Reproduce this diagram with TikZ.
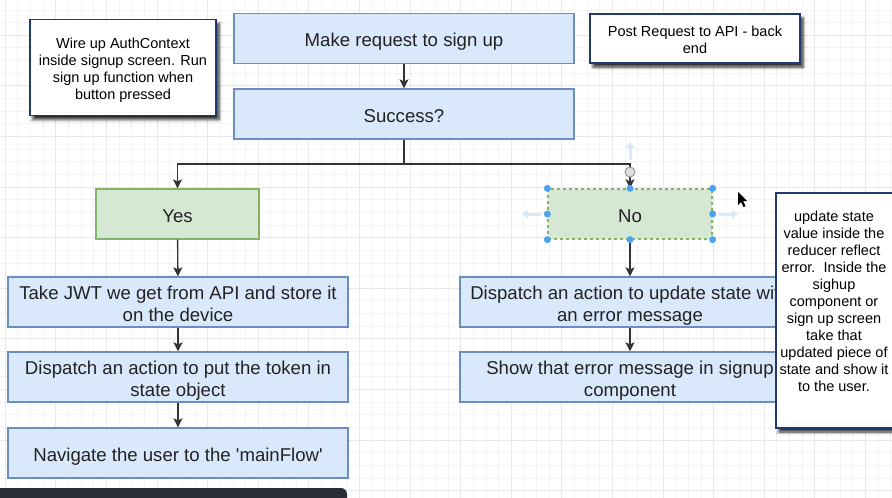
\documentclass[tikz,border=0pt]{standalone}
\usepackage{fontspec}
\setmainfont{Liberation Sans}
\usetikzlibrary{arrows.meta,shadows.blur}
\definecolor{bfill}{HTML}{DAE8FC}
\definecolor{bdraw}{HTML}{6C8EBF}
\definecolor{gfill}{HTML}{D5E8D4}
\definecolor{gdraw}{HTML}{82B366}
\definecolor{ndraw}{HTML}{1F3A6E}
\definecolor{txt}{HTML}{222222}
\definecolor{lnk}{HTML}{333333}
\definecolor{hdl}{HTML}{4AA3EE}
\definecolor{hint}{HTML}{D8EAFA}
\definecolor{gmin}{HTML}{F4F4F4}
\definecolor{gmaj}{HTML}{E9E9E9}
\definecolor{barc}{HTML}{2A2D35}
\newcommand\bt{\rule{0pt}{20pt}}
\newcommand\bb{\rule[-4pt]{0pt}{4pt}}
\newcommand\nt{\rule{0pt}{16pt}}
\newcommand\nb{\rule[-3.6pt]{0pt}{3.6pt}}
\tikzset{
  boxb/.style={rectangle, draw=bdraw, fill=bfill, line width=1.3pt, minimum width=340pt, minimum height=50pt, inner sep=0pt, align=center, text=txt, font=\fontsize{18.6}{22}\selectfont},
  boxg/.style={boxb, draw=gdraw, fill=gfill},
  notetext/.style={align=center, text=black, font=\fontsize{14.5}{17}\selectfont},
  notebox/.style={rectangle, draw=ndraw, fill=white, line width=1.1pt, inner sep=0pt, notetext, blur shadow={shadow xshift=3pt, shadow yshift=-4pt, shadow blur steps=6, shadow opacity=85, shadow blur radius=3pt}},
  conn/.style={draw=lnk, line width=1.4pt, -{Stealth[length=9pt,width=9pt,inset=2pt]}},
  handle/.style={circle, fill=hdl, inner sep=0pt, minimum size=7pt},
  hintarrow/.style={draw=hint, line width=3pt, -{Triangle[length=6pt,width=9pt]}},
}
\begin{document}
\begin{tikzpicture}[x=1pt,y=-1pt]
\useasboundingbox (0,0) rectangle (892,498);
\begin{scope}
\clip (0,0) rectangle (892,498);
% grid
\foreach \k in {0,...,71} {\draw[gmin, line width=0.8pt] ({5.2+12.65*\k},0) -- ++(0,498);}
\foreach \k in {0,...,41} {\draw[gmin, line width=0.8pt] (0,{-15.4+12.65*\k}) -- ++(892,0);}
\foreach \k in {0,...,17} {\draw[gmaj, line width=1pt] ({5.2+50.6*\k},0) -- ++(0,498);}
\foreach \k in {0,...,10} {\draw[gmaj, line width=1pt] (0,{-15.4+50.6*\k}) -- ++(892,0);}

% main flow
\node[boxb] (req) at (404,38.5) {\bt Make request to sign up\bb};
\node[boxb] (succ) at (404,114) {\bt Success?\bb};
\node[boxg, minimum width=163pt] (yes) at (177.5,214) {\bt Yes\bb};
\node[boxg, minimum width=164pt, dashed] (no) at (630,214) {\bt No\bb};
\node[boxb] (jwt) at (178,302) {\bt Take JWT we get from API and store it\\on the device\bb};
\node[boxb] (tok) at (178,377) {\bt Dispatch an action to put the token in\\state object\bb};
\node[boxb] (nav) at (178,453) {\bt Navigate the user to the \textquotesingle mainFlow\textquotesingle\bb};
\node[boxb] (err) at (630,302) {\bt Dispatch an action to update state with\\an error message\bb};
\node[boxb] (show) at (630,377) {\bt Show that error message in signup\\component\bb};

\coordinate (split) at (404,164);
\draw[conn] (req) -- (succ);
\draw[draw=lnk, line width=1.4pt] (succ.south) -- (split);
\draw[conn] (split) -| (yes.north);
\draw[conn] (split) -| (no.north);
\draw[conn] (yes) -- (jwt);
\draw[conn] (jwt) -- (tok);
\draw[conn] (tok) -- (nav);
\draw[conn] (no) -- (err);
\draw[conn] (err) -- (show);

% selection handles of the No box
\foreach \a in {north west,north,north east,east,south east,south,south west,west} {\node[handle] at (no.\a) {};}
\draw[hintarrow] (541,214) -- (522,214);
\draw[hintarrow] (719,214) -- (738,214);
\draw[hintarrow] (630,160) -- (630,142);
\node[circle, draw=gray!80, fill=gray!25, line width=1pt, inner sep=0pt, minimum size=10pt] (conicon) at (630,172) {};
% cursor
\fill[black] (738,192) -- (738,205) -- (741,202) -- (743.5,207) -- (745.5,206) -- (743,201) -- (747,201) -- cycle;

% notes
\node[notebox, minimum width=186pt, minimum height=96pt] (wire) at (123,67.5) {\nt Wire up AuthContext\\inside signup screen. Run\\sign up function when\\button pressed\nb};
\node[notebox, minimum width=210pt, minimum height=49pt] (post) at (695,38.5) {\nt Post Request to API - back\\end\nb};
\node[notebox, minimum width=126pt, minimum height=235pt] (upd) at (839,310.5) {};
\node[notetext, inner sep=0pt] (updtext) at (834,300) {\nt update state\\value inside the\\reducer reflect\\error.\ \ Inside the\\sighup\\component or\\sign up screen\\take that\\updated piece of\\state and show it\\to the user.\nb};

% bottom bar
\fill[barc, rounded corners=6pt] (-10,488) rectangle (347,510);
\end{scope}
\end{tikzpicture}
\end{document}
